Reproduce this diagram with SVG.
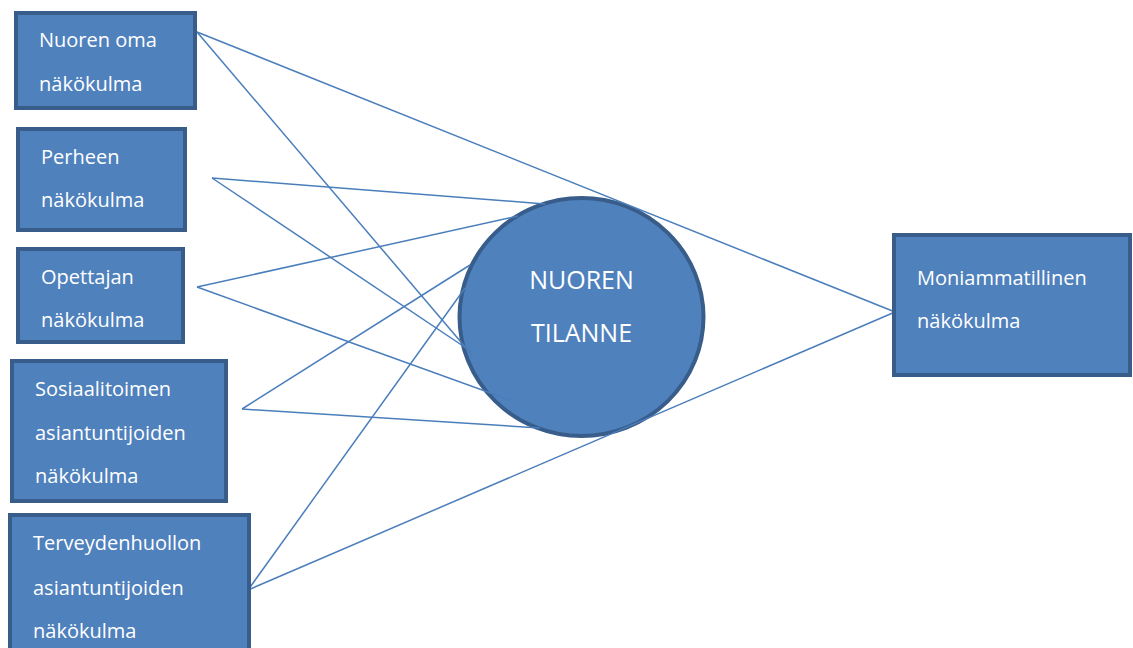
<svg xmlns="http://www.w3.org/2000/svg" width="1133" height="648" viewBox="0 0 1133 648">
<style>
.box{fill:#4f81bd;stroke:#385d8a;stroke-width:4}
.lbl{font-family:"Open Sans","Liberation Sans",sans-serif;font-size:20px;fill:#ffffff}
.big{font-family:"Open Sans","Liberation Sans",sans-serif;font-size:25px;fill:#ffffff;text-anchor:middle}
.conn line{stroke:#4a7ebb;stroke-width:1.5;fill:none}
</style>
<rect width="1133" height="648" fill="#ffffff"/>
<g id="center">
<ellipse class="box" cx="581.5" cy="317" rx="122" ry="119"/>
<text class="big" x="581.5" y="289">NUOREN</text>
<text class="big" x="581.5" y="342">TILANNE</text>
</g>
<g id="connectors" class="conn">
<line x1="197" y1="32" x2="895" y2="312"/>
<line x1="197" y1="32" x2="472" y2="355"/>
<line x1="212" y1="178" x2="545" y2="204"/>
<line x1="212" y1="178" x2="472" y2="352"/>
<line x1="197" y1="287" x2="518" y2="216"/>
<line x1="197" y1="287" x2="510" y2="400"/>
<line x1="242" y1="409" x2="470" y2="265"/>
<line x1="242" y1="409" x2="540" y2="428"/>
<line x1="248" y1="590" x2="465" y2="288"/>
<line x1="248" y1="590" x2="895" y2="312"/>
</g>
<g id="nuoren-oma">
<rect class="box" x="16" y="13" width="179" height="95"/>
<text class="lbl" x="39" y="47">Nuoren oma</text>
<text class="lbl" x="39" y="91">näkökulma</text>
</g>
<g id="perheen">
<rect class="box" x="18" y="129" width="167" height="101"/>
<text class="lbl" x="41" y="164">Perheen</text>
<text class="lbl" x="41" y="207">näkökulma</text>
</g>
<g id="opettajan">
<rect class="box" x="18" y="249" width="165" height="93"/>
<text class="lbl" x="41" y="284">Opettajan</text>
<text class="lbl" x="41" y="327">näkökulma</text>
</g>
<g id="sosiaalitoimen">
<rect class="box" x="12" y="361" width="214" height="140"/>
<text class="lbl" x="35" y="396">Sosiaalitoimen</text>
<text class="lbl" x="35" y="440">asiantuntijoiden</text>
<text class="lbl" x="35" y="483">näkökulma</text>
</g>
<g id="terveydenhuollon">
<rect class="box" x="10" y="515" width="239" height="145"/>
<text class="lbl" x="33" y="550">Terveydenhuollon</text>
<text class="lbl" x="33" y="595">asiantuntijoiden</text>
<text class="lbl" x="33" y="638">näkökulma</text>
</g>
<g id="moniammatillinen">
<rect class="box" x="894" y="235" width="236" height="140"/>
<text class="lbl" x="917" y="285">Moniammatillinen</text>
<text class="lbl" x="917" y="328">näkökulma</text>
</g>
</svg>
